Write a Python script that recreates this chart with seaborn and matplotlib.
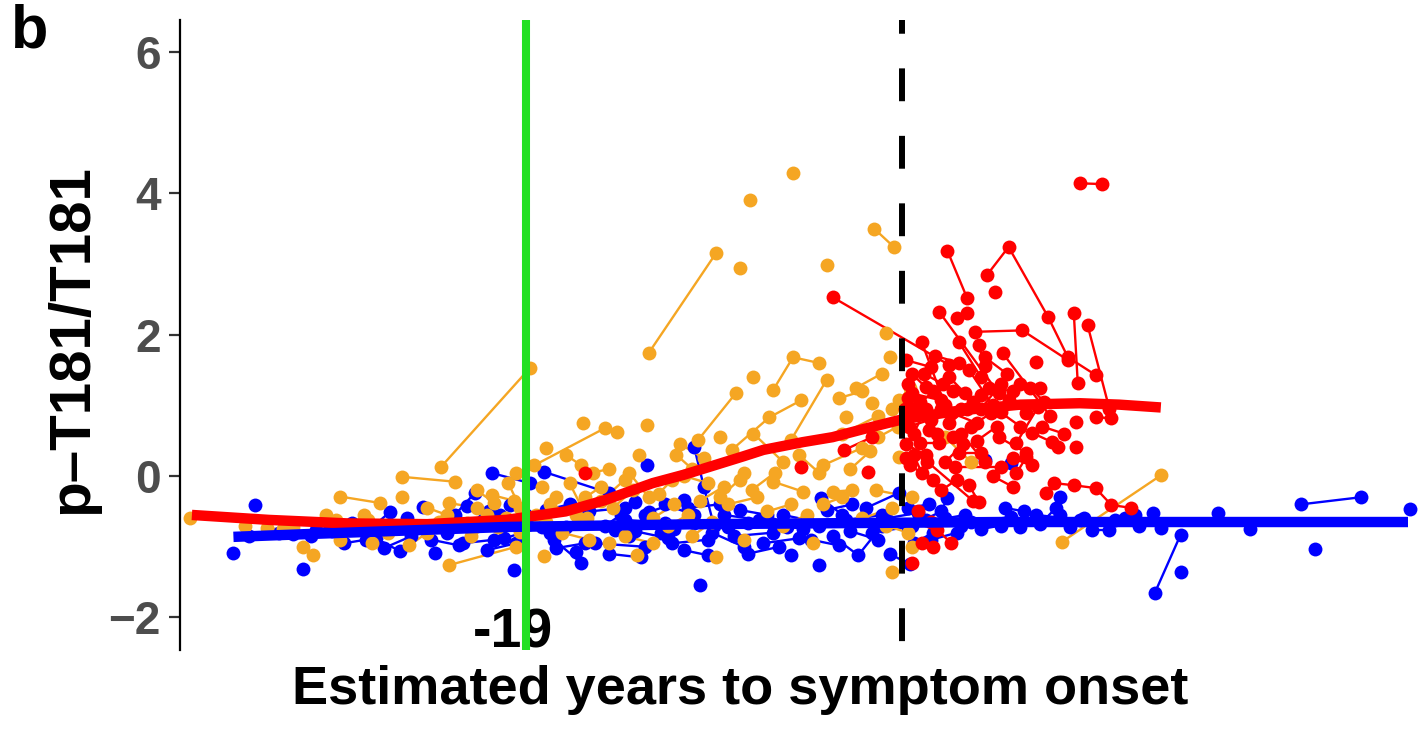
import numpy as np
import pandas as pd
import seaborn as sns
import matplotlib.pyplot as plt

# colours per group
col_nc = "#0000FF"      # non-carriers
col_pre = "#F5A623"     # presymptomatic carriers
col_sym = "#FF0000"     # symptomatic carriers
col_green = "#22E022"

# individual trajectories (estimated years to onset, p-T181/T181)
noncarrier_traj = [
    [(-33.8, -1.09)], [(-32.7, -0.41)], [(-33.0, -0.85), (-31.5, -0.80)], [(-30.3, -1.31)],
    [(-29.6, -0.76), (-27.8, -0.66)], [(-30.8, -0.82), (-28.8, -0.78)], [(-27.0, -0.78), (-25.9, -0.51)],
    [(-26.2, -1.02), (-24.8, -0.85)], [(-26.6, -0.88), (-25.4, -1.06)], [(-24.2, -0.44)], [(-23.6, -1.09)],
    [(-24.5, -0.72), (-22.6, -0.55), (-21.6, -0.24)], [(-23.0, -0.80), (-21.2, -0.62)],
    [(-20.7, 0.04), (-18.8, -0.10)], [(-18.1, 0.06), (-14.8, -0.24)], [(-19.6, -1.33)],
    [(-19.8, -0.41), (-18.5, -0.62)], [(-20.1, -0.88), (-18.2, -0.72)], [(-21.8, -0.70), (-20.3, -0.55)],
    [(-22.2, -0.95), (-20.6, -0.90)], [(-17.6, -0.90), (-16.2, -1.23)], [(-16.5, -1.07)],
    [(-17.0, -0.72), (-14.5, -0.76)], [(-16.2, -0.60), (-13.8, -0.85)], [(-15.5, -0.95), (-13.0, -1.00)],
    [(-13.5, -0.37)], [(-12.9, 0.16)], [(-10.5, 0.41), (-10.0, -0.16), (-9.5, -0.70)],
    [(-12.8, -0.51), (-11.0, -0.34)], [(-10.2, -1.54)], [(-12.2, -0.80), (-10.5, -0.66), (-8.8, -0.72)],
    [(-11.6, -0.95), (-9.8, -0.90)], [(-14.0, -0.62), (-12.0, -0.66)], [(-9.0, -0.55), (-7.2, -0.62)],
    [(-8.5, -0.85), (-6.5, -0.80)], [(-7.8, -0.66), (-5.8, -0.72), (-4.2, -0.70)], [(-5.6, -1.12)],
    [(-4.2, -1.26)], [(-4.1, -0.31), (-3.0, -0.55)], [(-3.5, -0.85), (-2.2, -1.12), (-1.0, -0.70)],
    [(-6.0, -0.55), (-4.8, -0.62)], [(-2.8, -0.62), (-1.0, -0.55)], [(-1.5, -0.80), (0.3, -0.72)],
    [(-1.8, -0.45), (-0.15, -0.24)], [(-7.0, -0.95), (-5.2, -0.88)], [(-9.6, -0.80), (-8.0, -1.00)],
    [(-0.6, -1.10), (0.4, -1.25)], [(-13.0, -0.55), (-11.5, -0.75)], [(-15.0, -0.70), (-14.2, -0.55)],
    [(0.5, -0.70), (2.0, -0.50), (2.3, -0.31)], [(1.2, -0.62), (3.0, -0.70)], [(4.2, 0.23)], [(5.5, 0.18)],
    [(3.5, -0.65), (5.5, -0.58)], [(6.0, -0.72), (8.0, -0.55)], [(8.0, -0.30)], [(6.8, -0.55), (9.0, -0.62)],
    [(9.6, -0.76), (10.5, -0.76)], [(12.7, -0.52), (13.1, -0.74)], [(12.8, -1.65), (14.1, -0.83)],
    [(14.1, -1.36)], [(16.0, -0.52)], [(17.6, -0.75)], [(20.2, -0.40), (23.2, -0.30)], [(20.9, -1.03)],
    [(25.7, -0.47)], [(11.3, -0.60), (12.0, -0.70)], [(1.5, -0.90), (2.8, -0.80)],
    [(0.3, -0.45), (1.4, -0.40)], [(7.0, -0.68), (7.8, -0.45)],
    [(-31.0, -0.70), (-29.9, -0.85)], [(-28.2, -0.95), (-27.1, -0.90)], [(-25.0, -0.60), (-23.8, -0.70)],
    [(-22.0, -0.42), (-20.9, -0.50)], [(-21.0, -1.05), (-19.5, -0.95)], [(-18.0, -0.48), (-16.8, -0.40)],
    [(-17.5, -1.02), (-16.0, -0.95)], [(-15.8, -0.50), (-14.0, -0.45)], [(-14.8, -1.10), (-13.2, -1.15)],
    [(-13.5, -0.78), (-11.8, -0.88)], [(-11.0, -1.05), (-9.8, -1.12)], [(-10.8, -0.45), (-9.2, -0.40)],
    [(-8.2, -0.48), (-6.8, -0.55)], [(-7.8, -1.10), (-6.2, -1.00)], [(-6.5, -0.68), (-5.0, -0.75)],
    [(-4.6, -0.90), (-3.2, -0.98)], [(-3.8, -0.48), (-2.5, -0.40)], [(-2.6, -0.78), (-1.2, -0.90)],
    [(-0.8, -0.60), (0.8, -0.52)], [(0.6, -0.95), (1.6, -0.80)], [(2.2, -0.60), (3.2, -0.55)],
    [(4.0, -0.75), (5.0, -0.70)], [(5.2, -0.45), (6.2, -0.50)], [(8.5, -0.72), (9.2, -0.60)],
    [(10.8, -0.62), (11.8, -0.55)], [(-19.0, -0.55), (-17.8, -0.80)], [(-23.8, -0.90), (-22.4, -0.98)],
    [(-12.0, -0.40), (-10.5, -0.55)],
]

presym_traj = [
    [(-36.0, -0.59)], [(-32.1, -0.74), (-31.3, -0.75)], [(-30.3, -1.00), (-29.8, -1.12)],
    [(-29.1, -0.55), (-28.6, -0.62)], [(-28.4, -0.29), (-26.4, -0.38)], [(-28.4, -0.90)],
    [(-27.0, -0.62), (-26.6, -0.72)], [(-25.3, -0.01), (-22.6, -0.08)], [(-25.3, -0.29)],
    [(-23.3, 0.13), (-18.8, 1.53)], [(-22.9, -1.26), (-19.5, -1.00)], [(-22.9, -0.38), (-21.5, -0.45)],
    [(-24.9, -0.98), (-24.0, -0.80)], [(-23.4, -0.65), (-22.0, -0.67)], [(-21.0, -0.55), (-20.4, -0.72)],
    [(-20.7, -0.27), (-19.6, -0.35)], [(-19.3, -0.79), (-18.0, -0.65)],
    [(-18.6, 0.15), (-15.0, 0.68), (-14.4, 0.62)], [(-16.1, 0.75)], [(-12.9, 0.72)],
    [(-12.8, 1.74), (-9.4, 3.15)], [(-8.2, 2.94)], [(-7.7, 3.90)], [(-5.5, 4.28)],
    [(-1.4, 3.50), (-0.4, 3.24)], [(-3.8, 2.98)], [(-6.5, 1.22), (-5.5, 1.68), (-4.2, 1.60)],
    [(-7.5, 1.40)], [(-10.3, 0.51), (-8.4, 1.17)], [(-5.6, 0.51), (-3.8, 1.36)],
    [(-8.6, 0.37), (-6.7, 0.83), (-5.1, 1.07)], [(-0.8, 2.02)], [(-0.6, 1.68)], [(-1.5, 1.03)],
    [(-2.8, 0.84)], [(-9.2, 0.55)], [(-13.3, 0.30)], [(-11.4, 0.30), (-10.6, 0.10)], [(-18.1, -1.13)],
    [(-13.4, -1.12)], [(-9.4, -1.14)], [(-6.5, -0.08), (-5.0, -0.22)], [(-8.0, 0.04)],
    [(-3.5, -0.22), (-2.5, -0.20)], [(-1.3, -0.20), (0.5, -0.30)], [(-0.5, -1.36)], [(0.5, -1.00)],
    [(8.1, -0.93), (13.1, 0.01)], [(2.2, 0.55), (3.5, 0.20)], [(-0.15, 0.27)], [(-0.15, 1.07)],
    [(-17.8, -0.40), (-16.5, -0.55)], [(-17.2, -0.80), (-15.8, -0.90)], [(-16.0, -0.30), (-15.2, -0.15)],
    [(-14.6, -0.45), (-13.6, -0.20)], [(-14.0, -0.85), (-12.6, -0.95)], [(-12.3, -0.25), (-11.6, -0.05)],
    [(-11.8, -0.70), (-10.8, -0.55)], [(-10.2, -0.35), (-9.0, -0.15)], [(-15.6, 0.05), (-14.8, 0.10)],
    [(-18.5, -0.55), (-17.5, -0.30)], [(-21.8, -0.85), (-20.0, -0.60)], [(-19.9, -0.10), (-19.3, -0.45)],
    [(-26.8, -0.95), (-26.0, -0.80)], [(-8.8, -0.40), (-7.3, -0.30)], [(-6.8, -0.50), (-5.6, -0.40)],
    [(-4.0, 0.15), (-2.0, 0.40)], [(-3.0, 0.60), (-1.2, 0.85)], [(-7.5, 0.60), (-6.0, 0.20)],
    [(-11.0, 0.00), (-9.8, -0.10)], [(-4.5, -0.95)], [(-2.0, -0.60), (-0.5, -0.45)],
    [(-2.3, 1.25), (-1.0, 1.45)],
    [(-19.5, 0.05), (-18.2, -0.15)], [(-17.0, 0.30), (-16.2, 0.15)], [(-16.8, -0.10), (-15.9, -0.60)],
    [(-15.2, -0.35), (-14.0, -0.05)], [(-13.8, 0.05), (-12.8, -0.30)], [(-12.6, -0.60), (-11.5, -0.40)],
    [(-11.2, 0.45), (-10.0, 0.25)], [(-10.6, -0.85), (-9.6, -0.65)], [(-9.2, -0.30), (-8.2, -0.05)],
    [(-7.6, -0.20), (-6.4, 0.05)], [(-6.0, -0.70), (-4.8, -0.55)], [(-5.2, 0.30), (-4.2, 0.05)],
    [(-4.0, -0.40), (-3.0, -0.30)], [(-2.6, 0.10), (-1.6, 0.35)], [(-1.2, 0.55), (-0.2, 0.70)],
    [(-0.8, -0.70), (0.3, -0.80)], [(-21.5, -0.20), (-20.6, -0.38)], [(-24.0, -0.45), (-23.0, -0.55)],
    [(-27.8, -0.70), (-27.2, -0.55)], [(-30.8, -0.72)], [(-33.2, -0.70)], [(-18.0, 0.40)], [(-14.8, -0.95)],
    [(-8.0, -0.90)], [(-3.2, 1.10), (-2.0, 1.20)], [(-0.5, 0.95), (0.4, 1.25)],
]

sym_traj = [
    [(-16.0, 0.04)], [(-5.1, 0.13)], [(-2.9, 0.37), (-1.5, 0.55)], [(-1.7, 0.06)],
    [(-3.5, 2.53), (2.4, 1.57)], [(9.0, 4.14), (10.1, 4.13)], [(2.3, 3.19), (3.3, 2.52)],
    [(4.3, 2.84), (5.4, 3.24), (7.4, 2.25), (8.4, 1.68), (9.8, 1.43)], [(4.7, 2.61)],
    [(1.9, 2.32), (4.9, 1.17)], [(2.8, 2.23), (3.3, 2.30)], [(3.7, 2.04), (6.1, 2.06), (8.4, 1.64)],
    [(8.7, 2.30), (8.9, 1.31)], [(9.4, 2.13), (10.5, 0.95)], [(6.8, 1.61)], [(5.1, 1.74), (7.5, 0.85)],
    [(2.9, 1.89), (4.0, 1.40)], [(8.8, 0.76)], [(8.8, 0.41)], [(9.8, 0.83), (10.6, 0.82)],
    [(6.6, 0.61), (7.6, 0.48)],
    [(7.3, -0.24), (7.7, -0.10), (8.7, -0.13), (9.8, -0.17), (10.6, -0.41), (11.6, -0.45)],
    [(3.4, -0.13), (3.9, -0.37)], [(1.8, -0.76), (2.5, -0.95)], [(0.5, -1.23)],
    [(0.2, 1.64), (1.5, 1.54)], [(0.5, 1.45), (1.2, 1.26)], [(2.4, 1.40), (3.2, 1.17)],
    [(0.9, 0.89), (1.5, 0.79)], [(0.35, 0.70), (2.5, 0.89)], [(3.5, 0.70), (4.5, 0.89)],
    [(5.4, 1.07), (6.3, 0.89)], [(5.8, 0.47), (6.9, 0.98)], [(4.9, 0.55), (6.3, 0.33)],
    [(2.9, 0.33), (4.0, 0.33)], [(0.9, 0.47), (1.9, 0.47)], [(0.5, 1.17), (2.0, 1.07)],
    [(4.2, 1.68), (5.3, 1.45)], [(3.4, 1.50), (4.6, 1.00)], [(2.7, 0.13), (5.0, 0.13)],
    [(5.8, 0.04), (6.3, 0.27)], [(7.9, 0.41)], [(1.0, 1.90), (2.2, 1.00)], [(0.3, 1.10), (1.8, 0.60)],
    [(3.0, 0.60), (4.2, 0.20)], [(1.3, 0.20), (3.6, -0.35)], [(0.8, -0.50), (1.5, -0.65)],
    [(6.5, 1.25), (7.2, 1.05)], [(2.0, 0.95), (3.8, 0.75)], [(0.6, 0.30), (1.0, 0.05)],
    [(0.3, 1.30), (0.9, 1.05)], [(0.6, 0.95), (1.6, 1.20)], [(1.1, 1.45), (2.1, 1.30)],
    [(1.4, 0.65), (2.6, 0.55)], [(2.2, 0.20), (3.1, 0.45)], [(2.6, 1.20), (3.6, 1.05)],
    [(3.0, 0.95), (4.0, 1.15)], [(3.8, 0.50), (4.8, 0.70)], [(4.4, 1.25), (5.6, 1.20)],
    [(5.0, 0.90), (6.0, 0.70)], [(5.6, 0.25), (6.6, 0.15)], [(0.2, 0.45), (1.2, 0.30)],
    [(0.4, 0.15), (1.6, -0.05)], [(1.7, 1.70), (2.9, 1.60)], [(3.9, 1.85), (4.2, 1.55)],
    [(6.0, 1.30), (7.0, 1.25)], [(7.1, 0.70), (8.2, 0.60)], [(2.0, -0.20), (2.8, -0.05)],
    [(4.6, 0.00), (5.6, -0.15)], [(1.0, -0.95), (1.6, -1.00)], [(0.15, 0.95)], [(0.2, 0.25)],
    [(2.4, 0.75), (3.3, 0.95)], [(4.0, 0.95), (5.0, 1.30)], [(0.6, 0.60), (1.2, 0.95)],
]

# group fits
nc_fit_x = [-33.8, -30, -25, -20, -15, -10, -5, 0, 5, 10, 15, 20, 25.6]
nc_fit_y = [-0.86, -0.82, -0.77, -0.72, -0.70, -0.68, -0.67, -0.66, -0.65, -0.65, -0.65, -0.65, -0.65]
sym_fit_x = [-35.9, -32, -28, -24, -20, -17, -15, -12.6, -11, -9.5, -8, -7, -5, -3.5, -2, 0, 3, 6, 9, 11, 13.1]
sym_fit_y = [-0.55, -0.62, -0.67, -0.68, -0.62, -0.50, -0.34, -0.10, 0.02, 0.15, 0.28, 0.37, 0.48,
             0.55, 0.66, 0.80, 0.93, 1.01, 1.03, 1.01, 0.97]

y_ticks = [-2, 0, 2, 4, 6]
green_year = -19


def to_frame(trajs):
    rows = []
    for sid, tr in enumerate(trajs):
        for x, y in tr:
            rows.append({"sid": sid, "x": x, "y": y})
    return pd.DataFrame(rows)


sns.set_theme(style="white")
plt.rcParams['font.family'] = ['Liberation Sans', 'DejaVu Sans']

fig = plt.figure(figsize=(14.21, 7.30), dpi=100)
ax = fig.add_axes([0.1267, 0.1096, 0.8725, 0.863])

for trajs, col in [(noncarrier_traj, col_nc), (presym_traj, col_pre), (sym_traj, col_sym)]:
    d = to_frame(trajs)
    sns.lineplot(data=d, x="x", y="y", units="sid", estimator=None, color=col, lw=1.7, ax=ax)
    sns.scatterplot(data=d, x="x", y="y", color=col, s=100, linewidth=0, ax=ax, zorder=3)

sns.lineplot(x=sym_fit_x, y=sym_fit_y, color=col_sym, lw=7.5, sort=False, ax=ax,
             solid_capstyle="butt", zorder=4)
sns.lineplot(x=nc_fit_x, y=nc_fit_y, color=col_nc, lw=7.5, sort=False, ax=ax,
             solid_capstyle="butt", zorder=5)

ylo, yhi = -2.46, 6.45
ax.plot([green_year, green_year], [yhi, ylo], color=col_green, lw=5.8, zorder=6)
ax.plot([0, 0], [yhi, ylo], color="black", lw=4.3, linestyle=(3.2, (5.5, 5.8)), zorder=6)
ax.text(green_year - 0.65, -2.22, "-19", ha="center", va="center", fontsize=40,
        fontweight="bold", color="black", zorder=5)

ax.set_xlim(-36.5, 26.2)
ax.set_ylim(ylo, yhi)
ax.set_yticks(y_ticks)
ax.set_yticklabels(["\u22122", "0", "2", "4", "6"])
ax.set_xticks([])
ax.set_xlabel("")
ax.set_ylabel("")
for s in ["top", "right", "bottom"]:
    ax.spines[s].set_visible(False)
ax.spines["left"].set_color("black")
ax.spines["left"].set_linewidth(1.6)
ax.tick_params(axis="y", left=True, length=8, width=1.6, color="#333333", pad=6,
               labelsize=33, labelcolor="#4D4D4D")
for lab in ax.get_yticklabels():
    lab.set_fontweight("bold")

fig.text(0.521, 0.055, "Estimated years to symptom onset", ha="center", va="center",
         fontsize=39, fontweight="bold", color="black")
fig.text(0.051, 0.535, "p\u2013T181/T181", ha="center", va="center", rotation=90,
         fontsize=42, fontweight="bold", color="black")
fig.text(0.008, 0.995, "b", ha="left", va="top", fontsize=44, fontweight="bold", color="black")

fig.savefig("out.png", dpi=100)
